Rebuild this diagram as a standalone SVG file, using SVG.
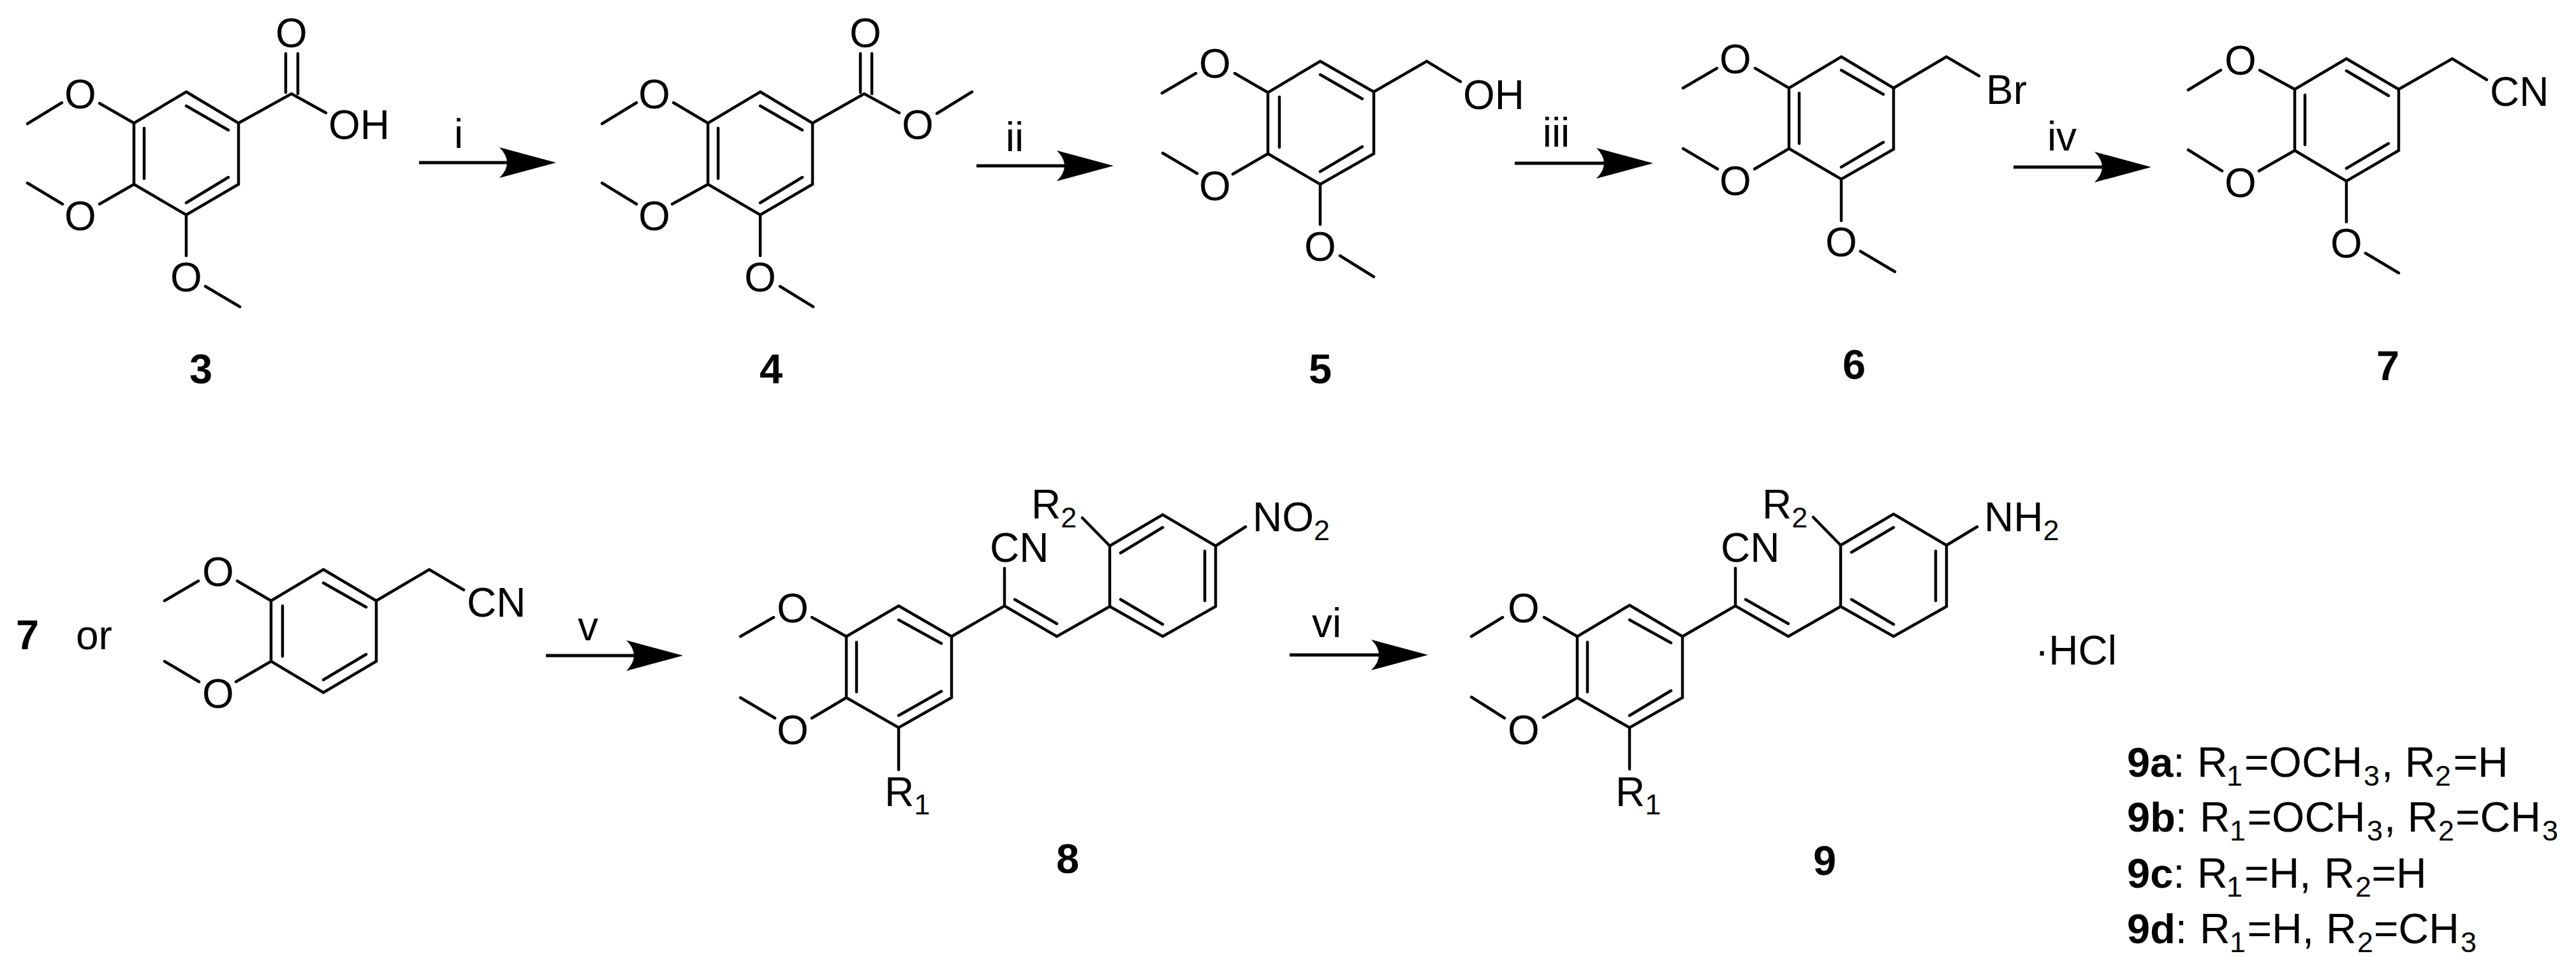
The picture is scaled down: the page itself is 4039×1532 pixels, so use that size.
<svg xmlns="http://www.w3.org/2000/svg" width="4039" height="1532" viewBox="0 0 4039 1532">
<style>
text{font-family:"Liberation Sans",Arial,sans-serif;font-size:64px;fill:#000}
#legend text{font-size:66px}
.m{text-anchor:middle}
.b{font-weight:bold;font-size:65px}
.s{font-size:45px}
.bond{fill:none;stroke:#000;stroke-width:4.5;stroke-linecap:round;stroke-linejoin:miter}
.arrow{fill:none;stroke:#000;stroke-width:5;marker-end:url(#head)}
</style>
<defs>
<marker id="head" markerUnits="userSpaceOnUse" viewBox="0 0 89 48" refX="12" refY="24" markerWidth="89" markerHeight="48" orient="auto"><path d="M89,24L0,0Q24,24 0,48Z" fill="#000"/></marker>
</defs>
<rect width="4039" height="1532" fill="#fff"/>
<g id="connectors">
<line class="arrow" x1="657" y1="255" x2="795" y2="255"/>
<line class="arrow" x1="1531" y1="260" x2="1669" y2="260"/>
<line class="arrow" x1="2375" y1="256" x2="2515" y2="256"/>
<line class="arrow" x1="3157" y1="262" x2="3296" y2="262"/>
<line class="arrow" x1="856" y1="1028" x2="994" y2="1028"/>
<line class="arrow" x1="2022" y1="1027" x2="2162" y2="1027"/>
<text class="m" x="719" y="232">i</text>
<text class="m" x="1591" y="237">ii</text>
<text class="m" x="2440" y="230">iii</text>
<text class="m" x="3233" y="236">iv</text>
<text class="m" x="922" y="1004">v</text>
<text class="m" x="2080" y="999">vi</text>
</g>
<g id="compound-3">
<path class="bond" d="M292,144L374,193L374,289L292,337L210,289L210,193ZM226,201L226,280M292,166L358,204M292,318L358,278M374,193L457,147L511,177M448,84L448,145M467,84L467,147M156,162L210,193M97,161L43,194M156,320L210,289M98,320L43,287M292,337L292,401M322,449L376,481"/>
<text class="m" x="457" y="74">O</text>
<text x="515" y="218">OH</text>
<text class="m" x="126" y="170">O</text>
<text class="m" x="126" y="361">O</text>
<text class="m" x="292" y="457">O</text>
<text class="m b" x="315" y="601">3</text>
</g>
<g id="compound-4">
<path class="bond" d="M1192,144L1274,193L1274,289L1192,337L1110,289L1110,193ZM1126,201L1126,280M1192,166L1258,204M1192,318L1258,278M1274,193L1355,147L1410,177M1349,84L1349,145M1367,84L1367,147M1469,178L1524,144M1056,161L1110,193M1054,320L1110,289M944,194L998,161M944,287L998,320M1192,337L1192,401M1223,449L1275,481"/>
<text class="m" x="1357" y="74">O</text>
<text class="m" x="1439" y="218">O</text>
<text class="m" x="1026" y="170">O</text>
<text class="m" x="1026" y="361">O</text>
<text class="m" x="1192" y="457">O</text>
<text class="m b" x="1209" y="601">4</text>
</g>
<g id="compound-5">
<path class="bond" d="M2070,96L2154,144L2154,241L2070,289L1988,241L1988,145ZM2006,152L2006,231M2070,117L2136,155M2070,269L2136,230M2154,144L2237,96L2290,128M1875,115L1822,146M1936,115L1988,145M1877,272L1823,240M1933,273L1988,241M2070,289L2070,352M2101,401L2154,434"/>
<text class="m" x="1905" y="122">O</text>
<text class="m" x="1905" y="314">O</text>
<text x="2294" y="171">OH</text>
<text class="m" x="2070" y="409">O</text>
<text class="m b" x="2070" y="601">5</text>
</g>
<g id="compound-6">
<path class="bond" d="M2887,89L2969,138L2969,234L2887,281L2805,233L2805,138ZM2821,146L2821,225M2887,110L2953,148M2887,262L2953,223M2969,138L3052,89L3103,119M2692,107L2639,138M2752,107L2805,138M2693,265L2639,233M2751,265L2805,233M2887,281L2887,346M2917,394L2971,426"/>
<text class="m" x="2721" y="115">O</text>
<text class="m" x="2721" y="306">O</text>
<text x="3114" y="163">Br</text>
<text class="m" x="2887" y="402">O</text>
<text class="m b" x="2907" y="594">6</text>
</g>
<g id="compound-7">
<path class="bond" d="M3679,92L3761,140L3761,236L3679,284L3598,236L3598,140ZM3614,149L3614,227M3679,111L3745,150M3679,264L3745,225M3761,140L3845,92L3899,125M3482,110L3431,141M3543,110L3598,140M3484,268L3431,235M3542,268L3598,236M3679,284L3679,348M3709,397L3761,428"/>
<text class="m" x="3513" y="117">O</text>
<text class="m" x="3513" y="309">O</text>
<text x="3904" y="166">CN</text>
<text class="m" x="3679" y="404">O</text>
<text class="m b" x="3744" y="596">7</text>
</g>
<g id="start-material">
<path class="bond" d="M507,893L590,942L590,1037L507,1086L425,1037L425,942ZM443,950L443,1029M507,914L574,952M507,1066L574,1026M590,942L673,893L727,925M311,911L258,942M372,911L425,942M312,1069L258,1037M370,1069L425,1037"/>
<text class="b m" x="43" y="1018">7</text>
<text x="119" y="1018">or</text>
<text class="m" x="342" y="919">O</text>
<text class="m" x="342" y="1110">O</text>
<text x="732" y="967">CN</text>
</g>
<g id="compound-8">
<path class="bond" d="M1409,950L1492,998L1492,1094L1409,1141L1327,1094L1327,998ZM1343,1007L1343,1085M1409,972L1476,1009M1409,1122L1476,1084M1213,968L1161,998M1273,968L1327,998M1215,1126L1161,1094M1273,1126L1327,1094M1409,1141L1409,1207M1492,998L1575,950L1657,998L1740,951M1591,940L1657,978M1575,950L1575,891M1740,856L1823,807L1906,856L1906,951L1823,998L1740,951ZM1757,867L1823,827M1889,864L1889,942M1757,940L1823,979M1740,856L1697,812M1906,856L1953,826"/>
<text class="m" x="1243" y="976">O</text>
<text class="m" x="1243" y="1167">O</text>
<text x="1387" y="1264">R<tspan class="s" dy="13">1</tspan></text>
<text x="1552" y="881">CN</text>
<text x="1617" y="813">R<tspan class="s" dy="14">2</tspan></text>
<text x="1964" y="833">NO<tspan class="s" dy="14">2</tspan></text>
<text class="m b" x="1674" y="1369">8</text>
</g>
<g id="compound-9">
<path class="bond" d="M2555,949L2638,998L2638,1094L2555,1141L2473,1094L2473,998ZM2489,1007L2489,1085M2555,972L2620,1008M2555,1122L2620,1083M2356,968L2307,998M2421,968L2473,998M2359,1126L2307,1093M2420,1125L2473,1094M2555,1141L2555,1206M2638,998L2721,950L2804,998L2886,951M2737,940L2804,978M2721,950L2721,891M2886,855L2969,806L3052,855L3052,951L2969,998L2886,951ZM2903,866L2969,827M3035,864L3035,942M2903,940L2969,979M2886,855L2843,811M3052,855L3100,826"/>
<text class="m" x="2389" y="976">O</text>
<text class="m" x="2389" y="1167">O</text>
<text x="2533" y="1264">R<tspan class="s" dy="13">1</tspan></text>
<text x="2698" y="881">CN</text>
<text x="2763" y="813">R<tspan class="s" dy="14">2</tspan></text>
<text x="3111" y="833">NH<tspan class="s" dy="14">2</tspan></text>
<text x="3191" y="1042">·HCl</text>
<text class="m b" x="2861" y="1372">9</text>
</g>
<g id="legend">
<text x="3335" y="1217.5"><tspan class="b">9a</tspan>: <tspan x="3445">R</tspan><tspan class="s" x="3491" dy="14">1</tspan><tspan x="3519" dy="-14">=OCH</tspan><tspan class="s" x="3706" dy="14">3</tspan><tspan x="3734" dy="-14">, R</tspan><tspan class="s" x="3818" dy="14">2</tspan><tspan x="3846.5" dy="-14">=H</tspan></text>
<text x="3335" y="1304"><tspan class="b">9b</tspan>: <tspan x="3449">R</tspan><tspan class="s" x="3496" dy="14">1</tspan><tspan x="3523.5" dy="-14">=OCH</tspan><tspan class="s" x="3711" dy="14">3</tspan><tspan x="3738" dy="-14">, R</tspan><tspan class="s" x="3823" dy="14">2</tspan><tspan x="3850" dy="-14">=CH</tspan><tspan class="s" x="3986" dy="14">3</tspan></text>
<text x="3335" y="1391.5"><tspan class="b">9c</tspan>: <tspan x="3445">R</tspan><tspan class="s" x="3491" dy="14">1</tspan><tspan x="3519" dy="-14">=H, </tspan><tspan x="3644">R</tspan><tspan class="s" x="3693" dy="14">2</tspan><tspan x="3718.5" dy="-14">=H</tspan></text>
<text x="3335" y="1479"><tspan class="b">9d</tspan>: <tspan x="3449">R</tspan><tspan class="s" x="3496" dy="14">1</tspan><tspan x="3523.5" dy="-14">=H, </tspan><tspan x="3647">R</tspan><tspan class="s" x="3696" dy="14">2</tspan><tspan x="3722" dy="-14">=CH</tspan><tspan class="s" x="3858" dy="14">3</tspan></text>
</g>
</svg>
